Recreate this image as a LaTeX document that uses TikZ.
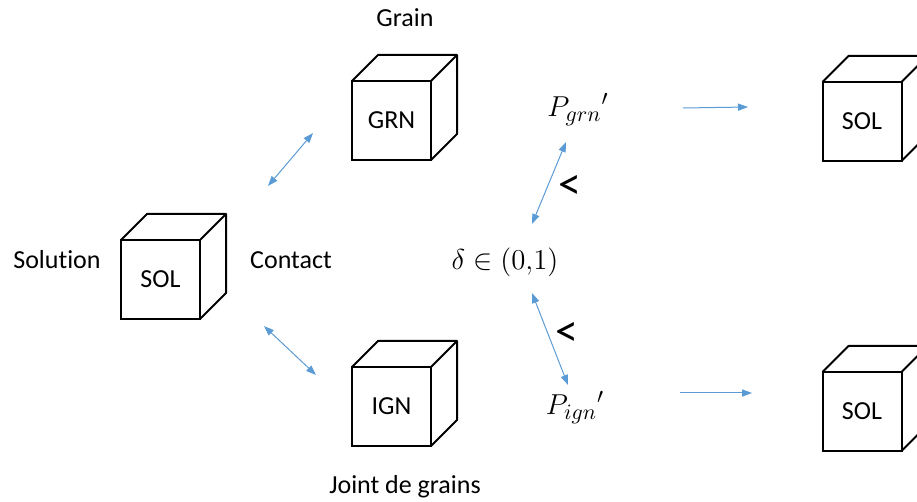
\documentclass[tikz,border=0pt]{standalone}
\usepackage{fontspec}
\setmainfont{Carlito}[Ligatures=NoCommon]
\usetikzlibrary{arrows.meta}
\definecolor{linkblue}{HTML}{5B9BD5}

\begin{document}
\begin{tikzpicture}[x=0.5pt, y=-0.5pt,
  face/.style={draw, line width=1pt, minimum size=39.5pt, inner sep=0pt, outer sep=0pt,
    font=\fontsize{13}{15}\selectfont},
  lbl/.style={font=\fontsize{13}{15}\selectfont},
  mathlbl/.style={font=\fontsize{15.5}{18}\selectfont},
  link/.style={draw=linkblue, line width=0.5pt, -{Triangle[length=5pt,width=3.6pt]}},
  twoway/.style={link, {Triangle[length=5pt,width=3.6pt]}-{Triangle[length=5pt,width=3.6pt]}}]

\useasboundingbox (0,0) rectangle (917,502);
\clip (0,0) rectangle (917,502);

\node[face] (sol) at (160.5,279.5) {SOL};
\node[face] (grn) at (391.5,120.5) {GRN};
\node[face] (ign) at (391.5,406.5) {IGN};
\node[face] (solgrn) at (862,121.5) {SOL};
\node[face] (solign) at (862,411.5) {SOL};

\foreach \c in {sol, grn, ign, solgrn, solign} {
\draw[line width=1pt, line join=round] (\c.north west) -- ++(26,-26) -- ++(79,0) -- ++(0,79) -- (\c.south east)
  (\c.north east) -- ++(26,-26);
}

\node[lbl] (grain) at (405,18) {Grain};
\node[lbl] (joint) at (405,487) {Joint de grains};
\node[lbl] (solution) at (57,260) {Solution};
\node[lbl] (contact) at (291,260) {Contact};

\node[mathlbl] (delta) at (505,262) {$\delta \in (0{,}1)$};
\node[mathlbl, anchor=base] (pgrn) at (578,117) {${P_{grn}}'$};
\node[mathlbl, anchor=base] (pign) at (575,415) {${P_{ign}}'$};
\node[font=\fontsize{23}{26}\selectfont] (ltgrn) at (569.5,187) {<};
\node[font=\fontsize{23}{26}\selectfont] (ltign) at (567,334) {<};

\coordinate (sgA) at (268,186);
\coordinate (sgB) at (313,133);
\coordinate (siA) at (264,326);
\coordinate (siB) at (316,375);
\coordinate (dgA) at (532,224);
\coordinate (dgB) at (566,142);
\coordinate (diA) at (532,293);
\coordinate (diB) at (568,385);
\coordinate (pgA) at (683,108);
\coordinate (pgB) at (748,107);
\coordinate (piA) at (680,393);
\coordinate (piB) at (752,393);

\draw[twoway] (sgA) -- (sgB);
\draw[twoway] (siA) -- (siB);
\draw[twoway] (dgA) -- (dgB);
\draw[twoway] (diA) -- (diB);
\draw[link] (pgA) -- (pgB);
\draw[link] (piA) -- (piB);

\end{tikzpicture}
\end{document}
